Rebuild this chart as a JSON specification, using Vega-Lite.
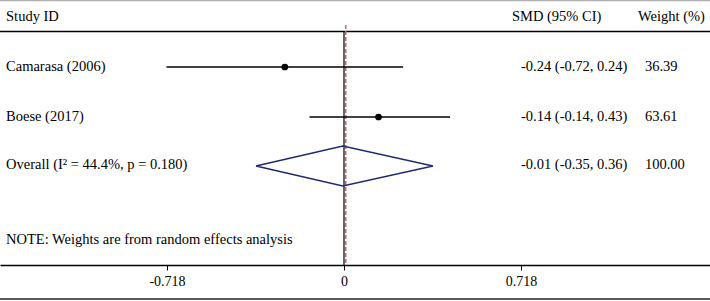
{
  "$schema": "https://vega.github.io/schema/vega-lite/v6.json",
  "width": 710,
  "height": 301,
  "padding": 0,
  "autosize": {"type": "none"},
  "config": {"view": {"stroke": null}, "font": "Liberation Serif"},
  "datasets": {
    "studies": [
      {"study": "Camarasa (2006)", "row": 0, "smd": -0.24, "lo": -0.72, "hi": 0.24},
      {"study": "Boese (2017)", "row": 1, "smd": 0.14, "lo": -0.14, "hi": 0.43}
    ],
    "diamond": [
      {"ord": 1, "x": -0.357, "y": 1.98},
      {"ord": 2, "x": -0.005, "y": 1.58},
      {"ord": 3, "x": 0.361, "y": 1.98},
      {"ord": 4, "x": -0.005, "y": 2.38},
      {"ord": 5, "x": -0.357, "y": 1.98}
    ],
    "hlines": [
      {"y": -1.33, "c": "#b0b0b0"},
      {"y": -0.71, "c": "#000000"},
      {"y": 4.64, "c": "#222222"}
    ],
    "labels": [
      {"x": -1.371, "y": -1.0, "t": "Study ID"},
      {"x": 0.6815, "y": -1.0, "t": "SMD (95% CI)"},
      {"x": 1.193, "y": -1.0, "t": "Weight (%)"},
      {"x": -1.371, "y": 0, "t": "Camarasa (2006)"},
      {"x": 0.718, "y": 0, "t": "-0.24 (-0.72, 0.24)"},
      {"x": 1.221, "y": 0, "t": "36.39"},
      {"x": -1.371, "y": 1, "t": "Boese (2017)"},
      {"x": 0.718, "y": 1, "t": "-0.14 (-0.14, 0.43)"},
      {"x": 1.221, "y": 1, "t": "63.61"},
      {"x": -1.371, "y": 1.96, "t": "Overall (I² = 44.4%, p = 0.180)"},
      {"x": 0.718, "y": 1.96, "t": "-0.01 (-0.35, 0.36)"},
      {"x": 1.221, "y": 1.96, "t": "100.00"},
      {"x": -1.371, "y": 3.46, "t": "NOTE: Weights are from random effects analysis"}
    ],
    "vlines": [
      {"x": 0, "y": -0.71, "y2": 3.96, "kind": "null"},
      {"x": 0.007, "y": -0.84, "y2": 3.96, "kind": "overall"}
    ]
  },
  "layer": [
    {
      "data": {"name": "hlines"},
      "mark": {"type": "rule", "strokeWidth": 1.5},
      "encoding": {
        "y": {"field": "y", "type": "quantitative", "scale": {"domain": [-1.34, 4.68], "reverse": true, "nice": false, "zero": false}, "axis": null},
        "color": {"field": "c", "type": "nominal", "scale": null}
      }
    },
    {
      "data": {"name": "vlines"},
      "transform": [{"filter": "datum.kind == 'null'"}],
      "mark": {"type": "rule", "color": "#000000", "strokeWidth": 1.2},
      "encoding": {
        "x": {"field": "x", "type": "quantitative", "scale": {"domain": [-1.3955, 1.4848], "nice": false, "zero": false},
          "axis": {"values": [-0.718, 0, 0.718], "labelExpr": "datum.value == 0 ? '0' : (datum.value < 0 ? '-' : '') + format(abs(datum.value), '.3f')", "offset": -36, "domainColor": "#000000", "domainWidth": 1.5, "tickColor": "#000000", "tickSize": 5, "labelPadding": 4, "labelFontSize": 14, "labelColor": "#000000", "labelFont": "Liberation Serif", "grid": false, "title": null}},
        "y": {"field": "y", "type": "quantitative"},
        "y2": {"field": "y2"}
      }
    },
    {
      "data": {"name": "vlines"},
      "transform": [{"filter": "datum.kind == 'overall'"}],
      "mark": {"type": "rule", "color": "#d0606e", "strokeWidth": 1.5, "strokeDash": [4, 2]},
      "encoding": {
        "x": {"field": "x", "type": "quantitative"},
        "y": {"field": "y", "type": "quantitative"},
        "y2": {"field": "y2"}
      }
    },
    {
      "data": {"name": "studies"},
      "mark": {"type": "rule", "color": "#000000", "strokeWidth": 1.5},
      "encoding": {
        "x": {"field": "lo", "type": "quantitative"},
        "x2": {"field": "hi"},
        "y": {"field": "row", "type": "quantitative"}
      }
    },
    {
      "data": {"name": "studies"},
      "mark": {"type": "point", "filled": true, "color": "#000000", "size": 45, "opacity": 1},
      "encoding": {
        "x": {"field": "smd", "type": "quantitative"},
        "y": {"field": "row", "type": "quantitative"}
      }
    },
    {
      "data": {"name": "diamond"},
      "mark": {"type": "line", "color": "#1f2a6e", "strokeWidth": 1.5},
      "encoding": {
        "x": {"field": "x", "type": "quantitative"},
        "y": {"field": "y", "type": "quantitative"},
        "order": {"field": "ord", "type": "quantitative"}
      }
    },
    {
      "data": {"name": "labels"},
      "mark": {"type": "text", "align": "left", "baseline": "middle", "fontSize": 14.5, "color": "#000000", "font": "Liberation Serif"},
      "encoding": {
        "x": {"field": "x", "type": "quantitative"},
        "y": {"field": "y", "type": "quantitative"},
        "text": {"field": "t"}
      }
    }
  ]
}
